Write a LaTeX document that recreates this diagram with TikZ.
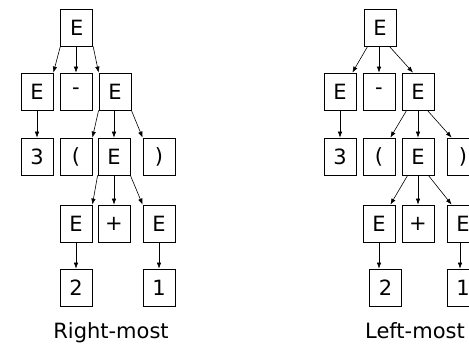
\documentclass[tikz,border=0pt]{standalone}
\usepackage{fontspec}
\setmainfont{DejaVu Sans}
\usetikzlibrary{arrows.meta}
\begin{document}
\begin{tikzpicture}[x=1pt,y=-1pt,
  sym/.style={draw=black,line width=0.8pt,minimum width=32pt,minimum height=37pt,
    inner sep=0pt,font=\fontsize{21}{22}\selectfont},
  edge/.style={line width=0.6pt,-{Latex[length=6pt,width=4.5pt]}},
  caption/.style={font=\fontsize{21}{22}\selectfont,anchor=base}]
\useasboundingbox (0,0) rectangle (469,345);
\clip (0,0) rectangle (469,345);

% ---- right-most derivation tree ----
\node[sym] (a0) at (76.75,27.5) {E};
\node[sym] (a1) at (37,91.5) {E};
\node[sym] (a2) at (76,91.5) {-};
\node[sym] (a3) at (115,91.5) {E};
\node[sym] (a4) at (37,156.5) {3};
\node[sym] (a5) at (76,156.5) {(};
\node[sym] (a6) at (114,156.5) {E};
\node[sym] (a7) at (159,156.5) {)};
\node[sym] (a8) at (76,223.5) {E};
\node[sym] (a9) at (114,223.5) {+};
\node[sym] (a10) at (159,223.5) {E};
\node[sym] (a11) at (76,287.5) {2};
\node[sym] (a12) at (159,287.5) {1};
\node[caption] (acap) at (111,338.5) {Right-most};

\draw[edge] (a0.south west) -- (a1.north east);
\draw[edge] (a2.north |- a0.south) -- (a2.north);
\draw[edge] (a0.south east) -- (a3.north west);
\draw[edge] (a1.south) -- (a4.north);
\draw[edge] (a3.south west) -- (a5.north east);
\draw[edge] (a6.north |- a3.south) -- (a6.north);
\draw[edge] (a3.south east) -- (a7.north west);
\draw[edge] (a6.south west) -- (a8.north east);
\draw[edge] (a9.north |- a6.south) -- (a9.north);
\draw[edge] (a6.south east) -- (a10.north west);
\draw[edge] (a8.south) -- (a11.north);
\draw[edge] (a10.south) -- (a12.north);

% ---- left-most derivation tree ----
\node[sym] (b0) at (380,27.5) {E};
\node[sym] (b1) at (340,91.5) {E};
\node[sym] (b2) at (379,91.5) {-};
\node[sym] (b3) at (418,91.5) {E};
\node[sym] (b4) at (340,156.5) {3};
\node[sym] (b5) at (379,156.5) {(};
\node[sym] (b6) at (418,156.5) {E};
\node[sym] (b7) at (463,156.5) {)};
\node[sym] (b8) at (379,223.5) {E};
\node[sym] (b9) at (418,223.5) {+};
\node[sym] (b10) at (463,223.5) {E};
\node[sym] (b11) at (385.5,287.5) {2};
\node[sym] (b12) at (463,287.5) {1};
\node[caption] (bcap) at (415,338.5) {Left-most};

\draw[edge] ([xshift=4pt]b0.south west) -- ([xshift=-4pt]b1.north east);
\draw[edge] (b2.north |- b0.south) -- (b2.north);
\draw[edge] ([xshift=-7pt]b0.south east) -- ([xshift=-5pt]b3.north);
\draw[edge] (b1.south) -- (b4.north);
\draw[edge] ([xshift=5pt]b3.south west) -- ([xshift=-5pt]b5.north east);
\draw[edge] (b6.north |- b3.south) -- (b6.north);
\draw[edge] ([xshift=-7pt]b3.south east) -- ([xshift=5pt]b7.north west);
\draw[edge] ([xshift=6pt]b6.south west) -- ([xshift=-5pt]b8.north east);
\draw[edge] (b9.north |- b6.south) -- (b9.north);
\draw[edge] ([xshift=-6pt]b6.south east) -- ([xshift=5pt]b10.north west);
\draw[edge] (b8.south) -- (b8.south |- b11.north);
\draw[edge] ([xshift=-3pt]b10.south) -- ([xshift=-3pt]b12.north);
\end{tikzpicture}
\end{document}
